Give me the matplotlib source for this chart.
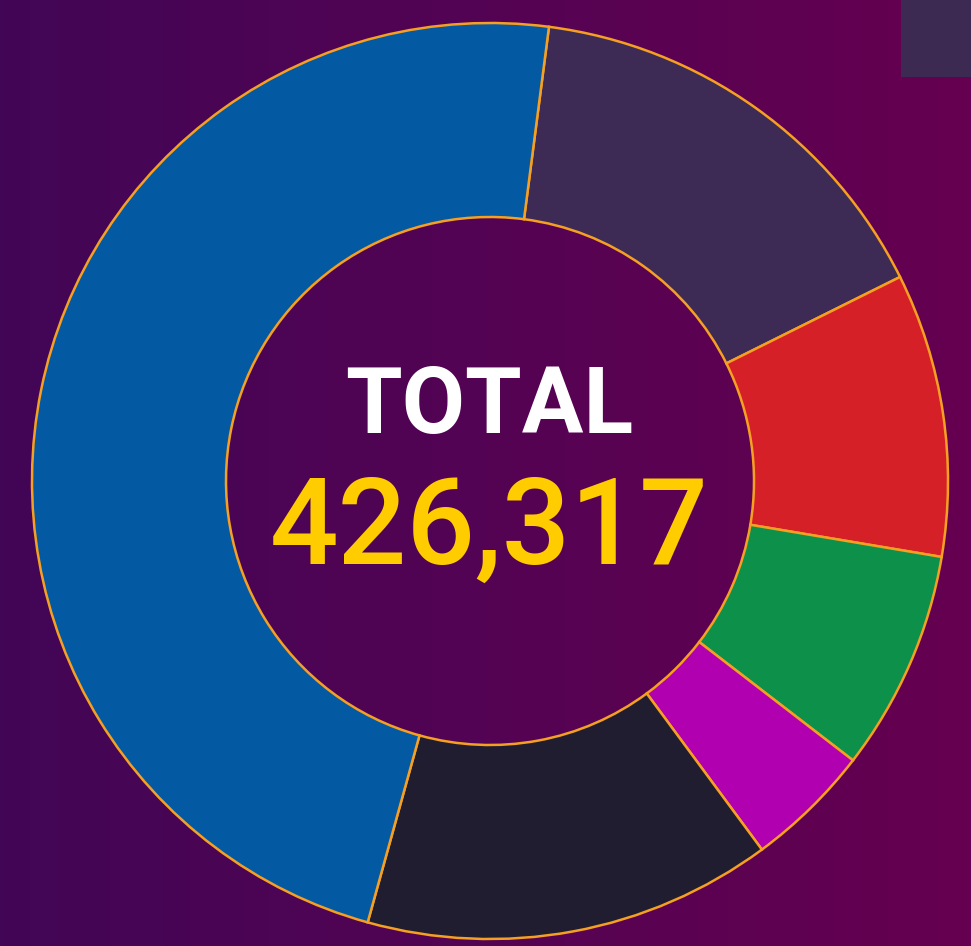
import numpy as np
import matplotlib
matplotlib.use("Agg")
import matplotlib.pyplot as plt
from matplotlib.colors import LinearSegmentedColormap
from matplotlib.patches import Rectangle

# -------------------------- data --------------------------
categories = ["Segment A", "Segment B", "Segment C", "Segment D", "Segment E", "Segment F"]
values = [66490, 42630, 33200, 18950, 61470, 203577]
colors = ["#3d2b55", "#d62027", "#0d914a", "#b000b0", "#201d30", "#0459a3"]
total = sum(values)

# -------------------------- canvas --------------------------
W, H = 971, 946
fig = plt.figure(figsize=(W / 100, H / 100), dpi=100)
ax = fig.add_axes([0, 0, 1, 1])
ax.set_xlim(0, W)
ax.set_ylim(0, H)
ax.axis("off")

# horizontal background gradient
bg = LinearSegmentedColormap.from_list("bg", ["#420656", "#660050"])
grad = np.linspace(0, 1, 256).reshape(1, -1)
ax.imshow(grad, cmap=bg, extent=[0, W, 0, H], aspect="auto", zorder=0)

# small box in the top-right corner
ax.add_patch(Rectangle((901, H - 77), 70, 77, facecolor="#3d2a52", edgecolor="none", zorder=1))

# -------------------------- donut --------------------------
cx, cy = 490, H - 481
r_out, r_in = 458, 264
ax.pie(values, colors=colors, center=(cx, cy), radius=r_out,
       startangle=82.6, counterclock=False,
       wedgeprops=dict(width=r_out - r_in, edgecolor="#f5a023", linewidth=1.8, zorder=2),
       frame=True)
ax.set_xlim(0, W)
ax.set_ylim(0, H)
ax.axis("off")

# -------------------------- centre text --------------------------
ax.text(cx - 1, H - 407, "TOTAL", ha="center", va="center", color="white",
        fontsize=66, fontweight="bold", family=["Roboto", "DejaVu Sans"], zorder=3)
ax.text(cx - 1, H - 531, f"{total:,}", ha="center", va="center", color="#ffcc00",
        fontsize=87, fontweight="medium", family=["Roboto", "DejaVu Sans"], zorder=3)

fig.savefig("out.png", dpi=100)
